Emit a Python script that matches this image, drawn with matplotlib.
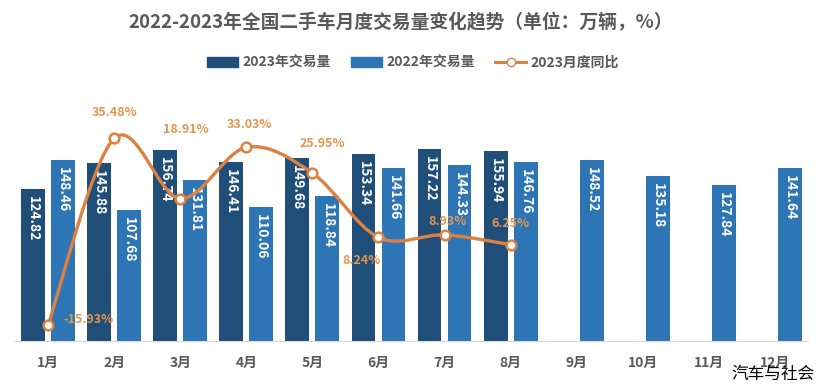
import matplotlib
matplotlib.use("Agg")
import matplotlib.pyplot as plt
import numpy as np
from matplotlib.path import Path
from matplotlib.patches import PathPatch, Patch
from matplotlib.lines import Line2D

plt.rcParams['font.family'] = ['Noto Sans CJK SC', 'DejaVu Sans']

months = ["1月", "2月", "3月", "4月", "5月", "6月",
          "7月", "8月", "9月", "10月", "11月", "12月"]
vol_2023 = [124.82, 145.88, 156.74, 146.41, 149.68, 153.34, 157.22, 155.94]
vol_2022 = [148.46, 107.68, 131.81, 110.06, 118.84, 141.66,
            144.33, 146.76, 148.52, 135.18, 127.84, 141.64]
yoy_2023 = [-15.93, 35.48, 18.91, 33.03, 25.95, 8.24, 8.93, 6.25]

# label offsets in pixels (dx, dy) for the yoy labels
yoy_offsets = [(40, 6), (0, 26), (6, 69), (3, 23), (10, 30), (-17, -23), (3, 13), (0, 21)]

C23 = "#1F4E79"
C22 = "#2E75B6"
CLINE = "#DB8243"
CLAB = "#E39650"
CTXT = "#595959"

fig = plt.figure(figsize=(8.26, 3.87), dpi=100)
ax = fig.add_axes([15 / 826, 46 / 387, 793 / 826, 244 / 387])
ax2 = ax.twinx()

x = np.arange(len(months))
w = 0.36
off = 0.227
b23 = ax.bar(x[:len(vol_2023)] - off, vol_2023, w, color=C23, zorder=2)
b22 = ax.bar(x + off, vol_2022, w, color=C22, zorder=2)
ax.set_xlim(-0.5, 11.5)
ax.set_ylim(0, 200)

for bars, vals in ((b23, vol_2023), (b22, vol_2022)):
    for r, v in zip(bars, vals):
        ax.annotate(f"{v:.2f}", (r.get_x() + r.get_width() / 2, v),
                    xytext=(0, -7), textcoords="offset pixels",
                    rotation=-90, ha="center", va="top", color="white",
                    fontsize=10, fontweight="bold", zorder=3)

# secondary axis for percentages: baseline ~ -20.3%, top ~ 46.9%
ax2.set_ylim(-20.3, 46.9)

# smoothed line (Catmull-Rom as Bezier)
px = x[:len(yoy_2023)].astype(float)
py = np.array(yoy_2023, dtype=float)
pts = np.column_stack([px, py])
ext = np.vstack([pts[0], pts, pts[-1]])
verts = [tuple(pts[0])]
codes = [Path.MOVETO]
for i in range(1, len(ext) - 2):
    p0, p1, p2, p3 = ext[i - 1], ext[i], ext[i + 1], ext[i + 2]
    c1 = p1 + (p2 - p0) / 6
    c2 = p2 - (p3 - p1) / 6
    verts += [tuple(c1), tuple(c2), tuple(p2)]
    codes += [Path.CURVE4] * 3
ax2.add_patch(PathPatch(Path(verts, codes), facecolor="none",
                        edgecolor=CLINE, lw=2.4, zorder=4, capstyle="round"))
ax2.plot(px, py, ls="none", marker="o", ms=7, mfc="white", mec=CLINE,
         mew=1.8, zorder=5)
for xi, yi, (dx, dy) in zip(px, py, yoy_offsets):
    ax2.annotate(f"{yi:.2f}%", (xi, yi), xytext=(dx, dy),
                 textcoords="offset pixels", ha="center", va="center",
                 color=CLAB, fontsize=9, fontweight="bold", zorder=6)

for a in (ax, ax2):
    for s in a.spines.values():
        s.set_visible(False)
    a.tick_params(left=False, right=False, labelleft=False, labelright=False)
ax.spines["bottom"].set_visible(True)
ax.spines["bottom"].set_color("#D9D9D9")
ax.set_xticks(x)
ax.set_xticklabels(months, fontsize=10, fontweight="bold", color=CTXT)
ax.tick_params(axis="x", length=0, pad=11)

fig.text(0.485, 1 - 23 / 387, "2022-2023年全国二手车月度交易量变化趋势（单位：万辆，%）",
         ha="center", va="center", fontsize=13.5, fontweight="bold", color=CTXT)

handles = [Patch(color=C23), Patch(color=C22),
           Line2D([], [], color=CLINE, lw=2.2, marker="o", ms=6, mfc="white", mec=CLINE)]
fig.legend(handles, ["2023年交易量", "2022年交易量", "2023月度同比"],
           loc="center", bbox_to_anchor=(0.5, 1 - 63 / 387), ncol=3, frameon=False,
           prop={"size": 10, "weight": "bold"}, labelcolor=CTXT,
           handlelength=2.2, handleheight=0.7, columnspacing=1.5, handletextpad=0.3)

fig.text(814 / 826, 1 - 374 / 387, "汽车与社会", ha="right", va="center",
         fontsize=12, color="black")

fig.savefig("out.png", dpi=100)
